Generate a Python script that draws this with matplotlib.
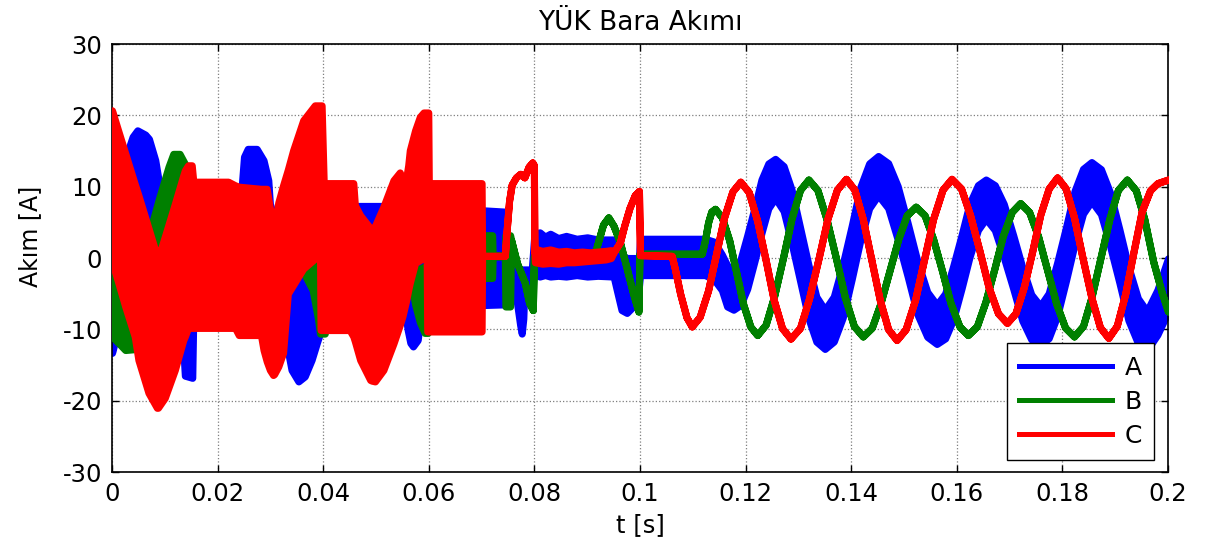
import matplotlib
matplotlib.use("Agg")
import matplotlib.pyplot as plt
from matplotlib.lines import Line2D

# ---------------- data ----------------
TITLE = "YÜK Bara Akımı"
XLABEL = "t [s]"
YLABEL = "Akım [A]"
SERIES = ["A", "B", "C"]
X_TICKS = [0, 0.02, 0.04, 0.06, 0.08, 0.1, 0.12, 0.14, 0.16, 0.18, 0.2]
X_TICKLABELS = ["0", "0.02", "0.04", "0.06", "0.08", "0.1", "0.12", "0.14", "0.16", "0.18", "0.2"]
Y_TICKS = [-30, -20, -10, 0, 10, 20, 30]

# Phase A (blue): envelope of the switching ripple, early part
A1_t = [0.0000, 0.0010, 0.0028, 0.0039, 0.0048, 0.0063, 0.0070, 0.0082, 0.0088, 0.0095,
        0.0113, 0.0125, 0.0134, 0.0138, 0.0152, 0.0154, 0.0240, 0.0246, 0.0250, 0.0257,
        0.0274, 0.0287, 0.0296, 0.0299, 0.0309, 0.0315, 0.0328, 0.0340, 0.0353, 0.0365,
        0.0378, 0.0388, 0.0392, 0.0395, 0.0460, 0.0465, 0.0520, 0.0530, 0.0556, 0.0560,
        0.0565, 0.0570, 0.0579, 0.0583, 0.0590, 0.0700, 0.0745, 0.0746, 0.0755, 0.0767,
        0.0773, 0.0776, 0.0779, 0.0781, 0.0795, 0.0800, 0.0810, 0.0820, 0.0830, 0.0845,
        0.0860, 0.0880, 0.0900, 0.0920, 0.0950, 0.0956, 0.0965, 0.0975, 0.0987, 0.0993,
        0.0998, 0.1000, 0.1123, 0.1140, 0.1155, 0.1165]
A1_hi = [2.0, 6.0, 14.6, 17.0, 17.9, 17.3, 16.7, 13.7, 11.0, 8.0,
         5.8, 4.0, 3.0, 3.0, 3.0, 3.0, 5.0, 10.4, 14.2, 15.3,
         15.3, 13.7, 10.9, 7.6, 5.3, 3.0, 0.0, 0.0, 0.0, 0.0,
         0.0, 0.0, 0.0, 6.0, 6.0, 7.3, 7.3, 5.0, 5.0, 5.0,
         5.0, 5.0, 5.0, 5.0, 5.0, 6.7, 6.5, -1.6, -1.6, -1.6,
         -1.6, -1.6, -1.6, -1.6, -1.6, 3.4, 3.6, 3.0, 3.4, 2.8,
         3.1, 2.7, 2.9, 2.6, 2.6, 2.0, 0.5, 0.0, 0.0, 0.0,
         0.0, 2.7, 2.7, 2.3, 0.5, -1.0]
A1_lo = [-13.3, -10.5, -5.0, -3.0, -2.0, -2.0, -2.0, -2.0, -2.0, -2.0,
         -3.0, -6.0, -11.5, -16.5, -16.8, -8.0, -8.0, -8.0, -8.0, -8.0,
         -8.0, -8.0, -8.0, -8.0, -8.0, -8.0, -11.0, -15.7, -17.3, -16.6,
         -14.3, -11.9, -11.0, -6.0, -8.0, -8.0, -8.0, -8.0, -8.0, -10.1,
         -11.9, -12.4, -11.5, -9.1, -8.0, -6.6, -6.5, -4.0, -4.5, -6.3,
         -9.4, -10.6, -8.5, -4.3, -3.0, -2.3, -2.6, -2.4, -2.6, -2.5,
         -2.6, -2.4, -2.6, -2.5, -2.6, -4.5, -7.3, -7.7, -6.8, -5.5,
         -4.0, -2.4, -2.4, -3.0, -4.5, -6.8]
# Phase A: sinusoidal part (band edges)
A2_t = [0.1177, 0.1190, 0.1203, 0.1217, 0.1230, 0.1243, 0.1256, 0.1272, 0.1287, 0.1303,
        0.1319, 0.1334, 0.1350, 0.1367, 0.1384, 0.1401, 0.1417, 0.1434, 0.1451, 0.1470,
        0.1488, 0.1507, 0.1525, 0.1544, 0.1562, 0.1578, 0.1593, 0.1609, 0.1624, 0.1640,
        0.1655, 0.1672, 0.1689, 0.1707, 0.1724, 0.1741, 0.1758, 0.1774, 0.1790, 0.1807,
        0.1823, 0.1839, 0.1855, 0.1873, 0.1890, 0.1908, 0.1925, 0.1943, 0.1960, 0.1980,
        0.2000]
A2_hi = [-1.75, -0.30, 3.16, 7.08, 10.99, 13.25, 13.90, 12.88, 9.61, 4.33,
         -0.96, -5.43, -7.25, -5.41, -0.86, 4.53, 9.91, 13.26, 14.30, 13.30,
         10.09, 4.88, -0.34, -4.75, -6.55, -4.97, -1.16, 3.22, 7.61, 10.22,
         11.00, 10.21, 7.58, 3.15, -1.28, -5.11, -6.70, -4.95, -0.66, 4.38,
         9.41, 12.50, 13.45, 12.45, 9.23, 4.00, -1.23, -5.65, -7.45, -4.45,
         -0.05]
A2_lo = [-7.25, -6.60, -4.34, -0.42, 3.49, 6.95, 8.40, 6.58, 2.11, -3.17,
         -8.46, -11.73, -12.75, -11.71, -8.36, -2.97, 2.41, 6.96, 8.80, 7.00,
         2.59, -2.62, -7.84, -11.05, -12.05, -11.27, -8.66, -4.28, 0.11, 3.92,
         5.50, 3.91, 0.08, -4.35, -8.78, -11.41, -12.20, -11.25, -8.16, -3.12,
         1.91, 6.20, 7.95, 6.15, 1.73, -3.50, -8.73, -11.95, -12.95, -10.75,
         -7.55]

# Phase B (green): ripple band, then a clean trace
B1_t = [0.0000, 0.0012, 0.0025, 0.0040, 0.0045, 0.0060, 0.0069, 0.0088, 0.0107, 0.0116,
        0.0128, 0.0141, 0.0150, 0.0300, 0.0315, 0.0331, 0.0345, 0.0366, 0.0380, 0.0390,
        0.0394, 0.0403, 0.0410, 0.0470, 0.0489, 0.0520, 0.0555, 0.0568, 0.0574, 0.0583,
        0.0592, 0.0598, 0.0602, 0.0699, 0.0700, 0.0720, 0.0721, 0.0744, 0.0745, 0.0754]
B1_hi = [-1.5, -3.0, -4.0, -4.0, -3.0, -1.0, 3.0, 8.1, 12.8, 14.6,
         14.6, 12.8, 9.0, 3.0, 6.2, 10.0, 11.0, 5.0, 3.0, 2.0,
         1.0, 1.0, 4.0, 4.0, 4.0, 3.0, 0.0, -2.0, -2.0, -1.5,
         -1.2, -1.0, 2.0, 2.0, 3.2, 3.2, 0.4, 0.4, 3.2, 3.2]
B1_lo = [-11.0, -11.9, -12.9, -12.8, -9.0, -6.0, -4.0, 0.2, 4.5, 6.0,
         8.5, 10.4, 3.0, -8.0, -3.0, 0.0, 2.0, -2.5, -4.5, -8.5,
         -10.6, -10.6, -6.0, -4.0, -2.0, -6.0, -3.0, -4.0, -6.5, -9.0,
         -10.5, -10.5, -6.0, -6.0, -2.8, -2.8, 0.2, 0.2, -6.8, -6.8]
B2_t = [0.0756, 0.0767, 0.0782, 0.0790, 0.0797, 0.0799, 0.0915, 0.0918, 0.0930, 0.0940,
        0.0950, 0.0962, 0.0975, 0.0987, 0.0997, 0.0999, 0.1117, 0.1123, 0.1129, 0.1135,
        0.1142, 0.1155, 0.1169, 0.1182, 0.1195, 0.1209, 0.1222, 0.1238, 0.1254, 0.1271,
        0.1287, 0.1303, 0.1319, 0.1336, 0.1353, 0.1371, 0.1388, 0.1405, 0.1422, 0.1439,
        0.1455, 0.1472, 0.1489, 0.1505, 0.1522, 0.1539, 0.1555, 0.1572, 0.1588, 0.1605,
        0.1621, 0.1638, 0.1654, 0.1671, 0.1687, 0.1704, 0.1720, 0.1737, 0.1754, 0.1771,
        0.1788, 0.1805, 0.1822, 0.1839, 0.1855, 0.1872, 0.1889, 0.1905, 0.1922, 0.1939,
        0.1955, 0.1972, 0.1988, 0.2000]
B2_v = [2.5, -0.7, -3.5, -6.3, -7.3, 0.3, 0.3, 1.6, 4.7, 5.7,
        4.5, 2.2, -1.5, -5.0, -7.5, 0.6, 0.6, 2.5, 5.0, 6.5,
        6.9, 5.71, 2.48, -1.95, -6.38, -9.61, -10.80, -9.34, -5.35, 0.10,
        5.55, 9.54, 11.00, 9.53, 5.50, 0.00, -5.50, -9.53, -11.00, -9.78,
        -6.45, -1.90, 2.65, 5.98, 7.20, 5.99, 2.70, -1.80, -6.30, -9.59,
        -10.80, -9.56, -6.18, -1.55, 3.08, 6.46, 7.70, 6.45, 3.03, -1.65,
        -6.33, -9.75, -11.00, -9.53, -5.50, 0.00, 5.50, 9.53, 11.00, 9.50,
        5.50, -0.50, -4.80, -7.50]

# Phase C (red): ripple band, trace, small ripple band, trace
C1_t = [0.0000, 0.0012, 0.0025, 0.0043, 0.0050, 0.0069, 0.0085, 0.0087, 0.0100, 0.0119,
        0.0135, 0.0138, 0.0144, 0.0151, 0.0154, 0.0220, 0.0233, 0.0240, 0.0282, 0.0287,
        0.0293, 0.0299, 0.0305, 0.0307, 0.0315, 0.0324, 0.0333, 0.0343, 0.0362, 0.0384,
        0.0394, 0.0395, 0.0397, 0.0401, 0.0450, 0.0457, 0.0460, 0.0470, 0.0489, 0.0492,
        0.0498, 0.0514, 0.0533, 0.0545, 0.0550, 0.0557, 0.0561, 0.0564, 0.0574, 0.0583,
        0.0590, 0.0596, 0.0597, 0.0599, 0.0600, 0.0700]
C1_hi = [20.7, 17.8, 14.7, 10.4, 8.8, 4.2, 0.3, -0.1, 3.0, 7.6,
         11.6, 12.3, 13.0, 13.0, 10.7, 10.7, 10.2, 10.0, 9.7, 9.7,
         9.7, 7.0, 5.0, 4.6, 7.8, 10.2, 12.4, 15.1, 19.3, 21.4,
         21.4, 21.4, 21.4, 10.5, 10.5, 10.5, 7.4, 6.0, 4.2, 3.9,
         4.5, 7.2, 10.9, 12.0, 11.1, 11.1, 13.0, 15.1, 17.9, 19.8,
         20.4, 20.4, 20.4, 20.4, 10.5, 10.5]
C1_lo = [-0.5, -3.5, -6.8, -11.0, -14.3, -18.9, -21.0, -21.0, -19.6, -15.7,
         -11.5, -11.0, -9.8, -9.8, -9.8, -9.8, -9.8, -10.8, -10.8, -12.9,
         -14.5, -15.7, -16.4, -16.3, -15.2, -13.3, -5.0, -3.8, -1.5, -0.1,
         0.2, -10.1, -10.1, -10.1, -10.1, -11.0, -11.7, -14.3, -17.1, -17.2,
         -17.3, -15.7, -12.0, -9.4, -8.2, -6.0, -4.5, -3.5, -0.7, -0.3,
         0.0, 0.0, -10.3, -10.3, -10.3, -10.3]
C2_t = [0.0701, 0.0744, 0.0747, 0.0752, 0.0757, 0.0765, 0.0773, 0.0781, 0.0789, 0.0796,
        0.0799, 0.0800]
C2_v = [0.3, 0.3, 3.5, 8.0, 10.3, 11.3, 11.8, 11.3, 12.8, 13.4,
        13.0, 0.8]
C3_t = [0.0801, 0.0815, 0.0830, 0.0845, 0.0860, 0.0875, 0.0890, 0.0905, 0.0920, 0.0935,
        0.0945]
C3_hi = [1.3, 1.0, 1.2, 0.9, 1.0, 0.8, 0.9, 0.8, 0.9, 1.0, 1.1]
C3_lo = [-0.6, -0.8, -0.7, -0.8, -0.6, -0.6, -0.5, -0.4, -0.3, -0.2, 0.0]
C4_t = [0.0950, 0.0962, 0.0970, 0.0980, 0.0990, 0.0998, 0.1000, 0.1060, 0.1066, 0.1076,
        0.1088, 0.1098, 0.1113, 0.1129, 0.1144, 0.1159, 0.1175, 0.1190, 0.1206, 0.1222,
        0.1238, 0.1253, 0.1269, 0.1285, 0.1303, 0.1320, 0.1338, 0.1355, 0.1373, 0.1390,
        0.1406, 0.1422, 0.1438, 0.1454, 0.1470, 0.1486, 0.1503, 0.1521, 0.1538, 0.1555,
        0.1573, 0.1590, 0.1608, 0.1625, 0.1643, 0.1660, 0.1678, 0.1695, 0.1711, 0.1727,
        0.1743, 0.1758, 0.1774, 0.1790, 0.1806, 0.1822, 0.1838, 0.1855, 0.1871, 0.1887,
        0.1903, 0.1919, 0.1935, 0.1950, 0.1966, 0.1980, 0.2000]
C4_v = [0.8, 2.2, 4.5, 7.0, 8.8, 9.4, 0.4, 0.3, -1.5, -5.0,
        -8.3, -9.6, -8.24, -4.53, 0.55, 5.63, 9.34, 10.7, 9.23, 5.2,
        -0.3, -5.8, -9.83, -11.3, -9.8, -5.7, -0.1, 5.5, 9.6, 11.1,
        9.59, 5.45, -0.2, -5.85, -9.99, -11.5, -9.99, -5.85, -0.2, 5.45,
        9.59, 11.1, 9.75, 6.05, 1.0, -4.05, -7.75, -9.1, -7.75, -4.05,
        1.0, 6.05, 9.75, 11.3, 9.79, 5.68, 0.05, -5.58, -9.69, -11.2,
        -9.5, -5.0, 1.0, 6.5, 9.5, 10.5, 11.0]

COLORS = {"A": "#0000ff", "B": "#008000", "C": "#ff0000"}

# ---------------- figure ----------------
plt.rcParams["font.family"] = ["DejaVu Sans"]
plt.rcParams["axes.unicode_minus"] = False
FS = 17.5

fig = plt.figure(figsize=(12.1, 5.51), dpi=100)
ax = fig.add_axes([112 / 1210, 79 / 551, 1056 / 1210, 428 / 551])

series = {
    "A": (A1_t + A2_t, A1_hi + A2_hi, A1_lo + A2_lo),
    "B": (B1_t + B2_t, B1_hi + B2_v, B1_lo + B2_v),
    "C": (C1_t + C2_t + C3_t + C4_t,
          C1_hi + C2_v + C3_hi + C4_v,
          C1_lo + C2_v + C3_lo + C4_v),
}
for z, name in enumerate(SERIES):
    t, hi, lo = series[name]
    ax.fill_between(t, lo, hi, facecolor=COLORS[name], edgecolor=COLORS[name],
                    linewidth=5.1, joinstyle="round", capstyle="round", zorder=2 + z)

ax.set_xlim(0, 0.2)
ax.set_ylim(-30, 30)
ax.set_xticks(X_TICKS)
ax.set_xticklabels(X_TICKLABELS)
ax.set_yticks(Y_TICKS)
ax.grid(True, linestyle=":", color="#7f7f7f", linewidth=0.9)
ax.set_axisbelow(True)
ax.tick_params(direction="in", top=True, right=True, length=5, width=1,
               labelsize=FS, pad=7)
for sp in ax.spines.values():
    sp.set_linewidth(1.2)

ax.set_title(TITLE, fontsize=19, pad=10)
ax.set_xlabel(XLABEL, fontsize=17.5)
ax.xaxis.set_label_coords(0.5, -0.095)
ax.set_ylabel(YLABEL, fontsize=17)
ax.yaxis.set_label_coords(-0.066, 0.55)

handles = [Line2D([], [], color=COLORS[n], linewidth=3.6) for n in SERIES]
leg = ax.legend(handles, SERIES, loc="lower right", bbox_to_anchor=(0.987, 0.028),
                borderaxespad=0, fontsize=18, frameon=True, fancybox=False,
                edgecolor="black", framealpha=1, handlelength=3.7, handletextpad=0.5,
                labelspacing=0.4, borderpad=0.5)
leg.get_frame().set_linewidth(1.0)
leg.set_zorder(10)

fig.savefig("out.png", dpi=100)
